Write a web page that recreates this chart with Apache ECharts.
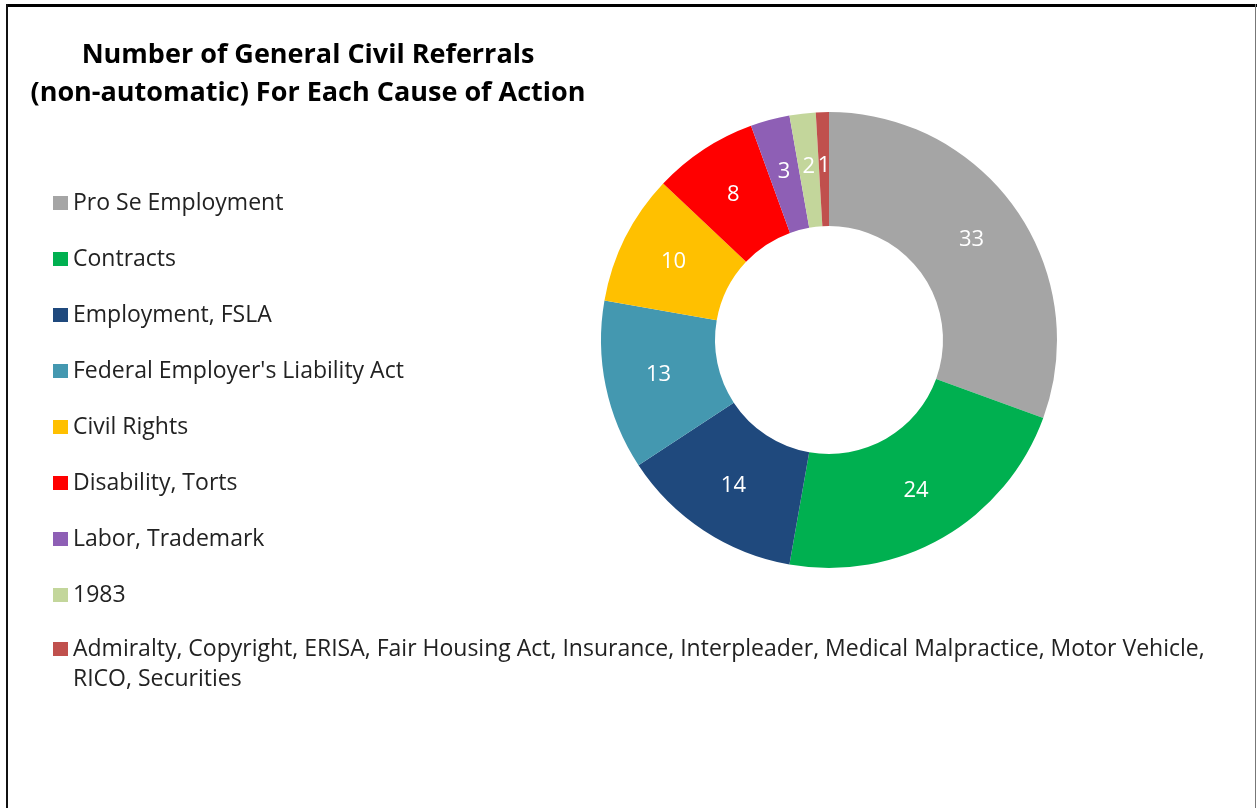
<!DOCTYPE html>
<html>
<head>
<meta charset="utf-8">
<script src="https://cdn.jsdelivr.net/npm/echarts@6/dist/echarts.min.js"></script>
<style>
html,body{margin:0;padding:0;background:#fff;}
#chart{width:1257px;height:808px;}
</style>
</head>
<body>
<div id="chart"></div>
<script>
const titleLines = ['Number of General Civil Referrals', '(non-automatic) For Each Cause of Action'];
const categories = [
  'Pro Se Employment',
  'Contracts',
  'Employment, FSLA',
  "Federal Employer's Liability Act",
  'Civil Rights',
  'Disability, Torts',
  'Labor, Trademark',
  '1983',
  'Admiralty, Copyright, ERISA, Fair Housing Act, Insurance, Interpleader, Medical Malpractice, Motor Vehicle, RICO, Securities'
];
const values = [33, 24, 14, 13, 10, 8, 3, 2, 1];
const colors = ['#A5A5A5', '#00B050', '#1F497D', '#4498B0', '#FFC000', '#FF0000', '#8E5FB5', '#C3D69B', '#C0504D'];

const FONT = '"Open Sans", Lato, sans-serif';
const chart = echarts.init(document.getElementById('chart'), null, {renderer: 'canvas'});

const legendText = {fontFamily: FONT, fontSize: 23, color: '#222', lineHeight: 30};
const lastName = categories[categories.length - 1];

const option = {
  backgroundColor: '#fff',
  animation: false,
  color: colors,
  title: {
    text: titleLines.join('\n'),
    left: 303,
    textAlign: 'center',
    top: 31,
    textStyle: {fontFamily: FONT, fontSize: 27, fontWeight: 'bold', color: '#000', lineHeight: 38}
  },
  legend: [{
    orient: 'vertical',
    left: 48,
    top: 183,
    itemWidth: 15,
    itemHeight: 14,
    itemGap: 26,
    icon: 'rect',
    align: 'left',
    data: categories.slice(0, categories.length - 1),
    textStyle: legendText
  }, {
    orient: 'vertical',
    left: 48,
    top: 599,
    itemWidth: 15,
    itemHeight: 14,
    icon: 'rect',
    align: 'left',
    data: [lastName],
    formatter: function (name) {
      // leading empty line keeps the marker beside the first line of text
      return '\n' + name.replace(' Motor Vehicle, ', ' Motor Vehicle,\n');
    },
    textStyle: legendText
  }],
  series: [{
    type: 'pie',
    center: [829, 340],
    radius: [114, 228],
    startAngle: 90,
    clockwise: true,
    avoidLabelOverlap: false,
    data: categories.map((c, i) => ({name: c, value: values[i]})),
    label: {
      show: true,
      position: 'inside',
      formatter: '{c}',
      color: '#fff',
      fontFamily: FONT,
      fontSize: 22
    },
    labelLine: {show: false},
    itemStyle: {borderWidth: 0}
  }],
  graphic: [
    {type: 'rect', shape: {x: 6, y: 4, width: 1251, height: 3}, style: {fill: '#000'}},
    {type: 'rect', shape: {x: 6, y: 4, width: 2, height: 804}, style: {fill: '#111'}},
    {type: 'rect', shape: {x: 1255, y: 4, width: 1, height: 804}, style: {fill: '#777'}}
  ]
};
chart.setOption(option);
</script>
</body>
</html>
